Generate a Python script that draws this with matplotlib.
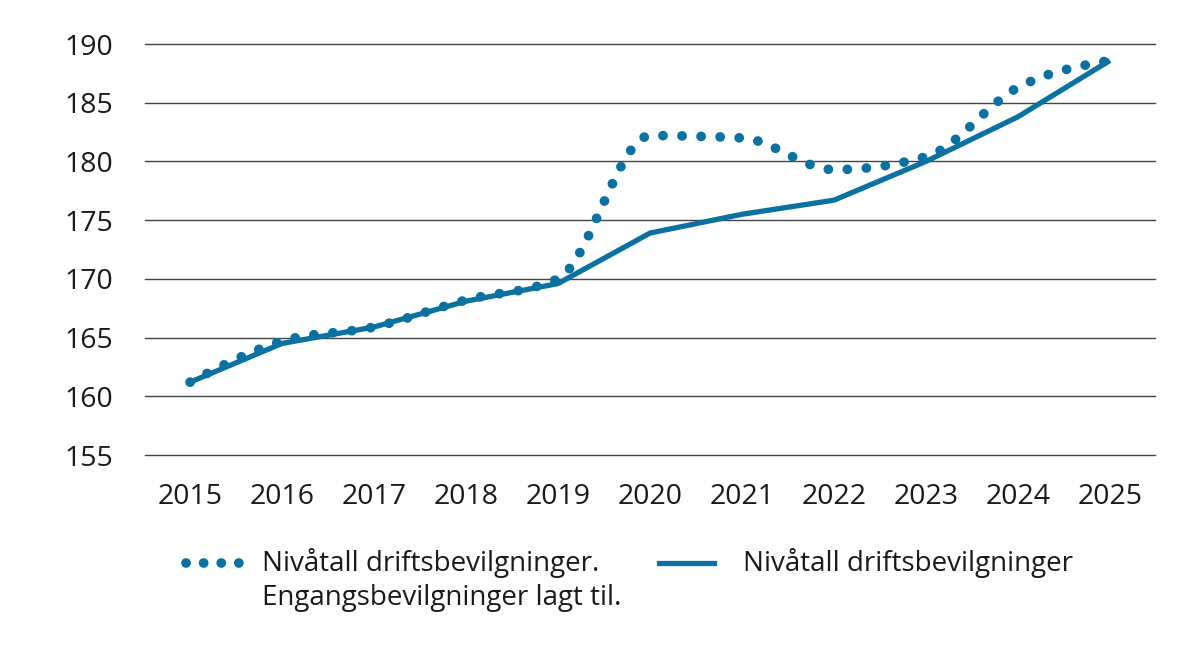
import matplotlib.pyplot as plt
import numpy as np
from matplotlib.path import Path
from matplotlib.patches import PathPatch
from matplotlib.lines import Line2D

years = [2015, 2016, 2017, 2018, 2019, 2020, 2021, 2022, 2023, 2024, 2025]
niva = [161.2, 164.5, 165.9, 168.1, 169.6, 173.9, 175.5, 176.7, 180.0, 183.8, 188.6]
niva_eng = [161.2, 164.7, 165.9, 168.2, 170.0, 182.2, 182.0, 179.3, 180.4, 186.3, 188.6]
yticks = [155, 160, 165, 170, 175, 180, 185, 190]

label_eng = ["Nivåtall driftsbevilgninger.", "Engangsbevilgninger lagt til."]
label_niva = "Nivåtall driftsbevilgninger"

blue = '#0a71a0'
plt.rcParams['font.family'] = ['Open Sans', 'DejaVu Sans']
fs = 20.5
fs_leg = 20

fig = plt.figure(figsize=(12, 6.62), dpi=100)
ax = fig.add_axes([145/1200, 1-455/662, 1010/1200, 411/662])


def monotone_path(xs, ys):
    # monotone cubic smoothing (no overshoot at peaks), drawn as bezier segments
    x = np.asarray(xs, float)
    y = np.asarray(ys, float)
    h = np.diff(x)
    s = np.diff(y) / h
    n = len(x)
    m = np.zeros(n)
    for i in range(1, n - 1):
        p = (s[i-1] * h[i] + s[i] * h[i-1]) / (h[i-1] + h[i])
        m[i] = (np.sign(s[i-1]) + np.sign(s[i])) * min(abs(s[i-1]), abs(s[i]), 0.5 * abs(p))
    m[0] = (3 * s[0] - m[1]) / 2
    m[-1] = (3 * s[-1] - m[-2]) / 2
    verts = [(x[0], y[0])]
    codes = [Path.MOVETO]
    for i in range(n - 1):
        d = h[i] / 3
        verts += [(x[i] + d, y[i] + m[i] * d), (x[i+1] - d, y[i+1] - m[i+1] * d), (x[i+1], y[i+1])]
        codes += [Path.CURVE4] * 3
    return Path(verts, codes)


patch = PathPatch(monotone_path(years, niva_eng), facecolor='none', edgecolor=blue,
                  linewidth=7, linestyle=(0, (0.01, 1.95)),
                  capstyle='round', joinstyle='round', zorder=2)
ax.add_patch(patch)
ax.plot(years, niva, color=blue, linewidth=3.8, solid_capstyle='butt', zorder=3)

ax.set_xlim(2014.51, 2025.49)
ax.set_ylim(155, 190)
ax.set_yticks(yticks)
ax.set_xticks(years)
ax.set_xticklabels([str(y) for y in years])
ax.grid(axis='y', color='#444444', linewidth=1)
for gl in ax.get_ygridlines():
    gl.set_clip_on(False)
ax.set_axisbelow(True)
for s in ax.spines.values():
    s.set_visible(False)
ax.tick_params(axis='both', length=0, labelsize=fs, colors='#1a1a1a')
ax.tick_params(axis='y', pad=23)
ax.tick_params(axis='x', pad=20)

# legend
y1 = 1 - 563/662
y2 = 1 - 598/662
fig.add_artist(Line2D([186/1200, 239/1200], [y1, y1], transform=fig.transFigure,
                      color=blue, linewidth=7, linestyle=(0, (0.01, 1.8)),
                      dash_capstyle='round'))
fig.text(262/1200, y1, label_eng[0], fontsize=fs_leg, va='center', color='#1a1a1a')
fig.text(262/1200, y2, label_eng[1], fontsize=fs_leg, va='center', color='#1a1a1a')
fig.add_artist(Line2D([659/1200, 714/1200], [y1, y1], transform=fig.transFigure,
                      color=blue, linewidth=3.8))
fig.text(743/1200, y1, label_niva, fontsize=fs_leg, va='center', color='#1a1a1a')

fig.savefig('out.png', dpi=100)
